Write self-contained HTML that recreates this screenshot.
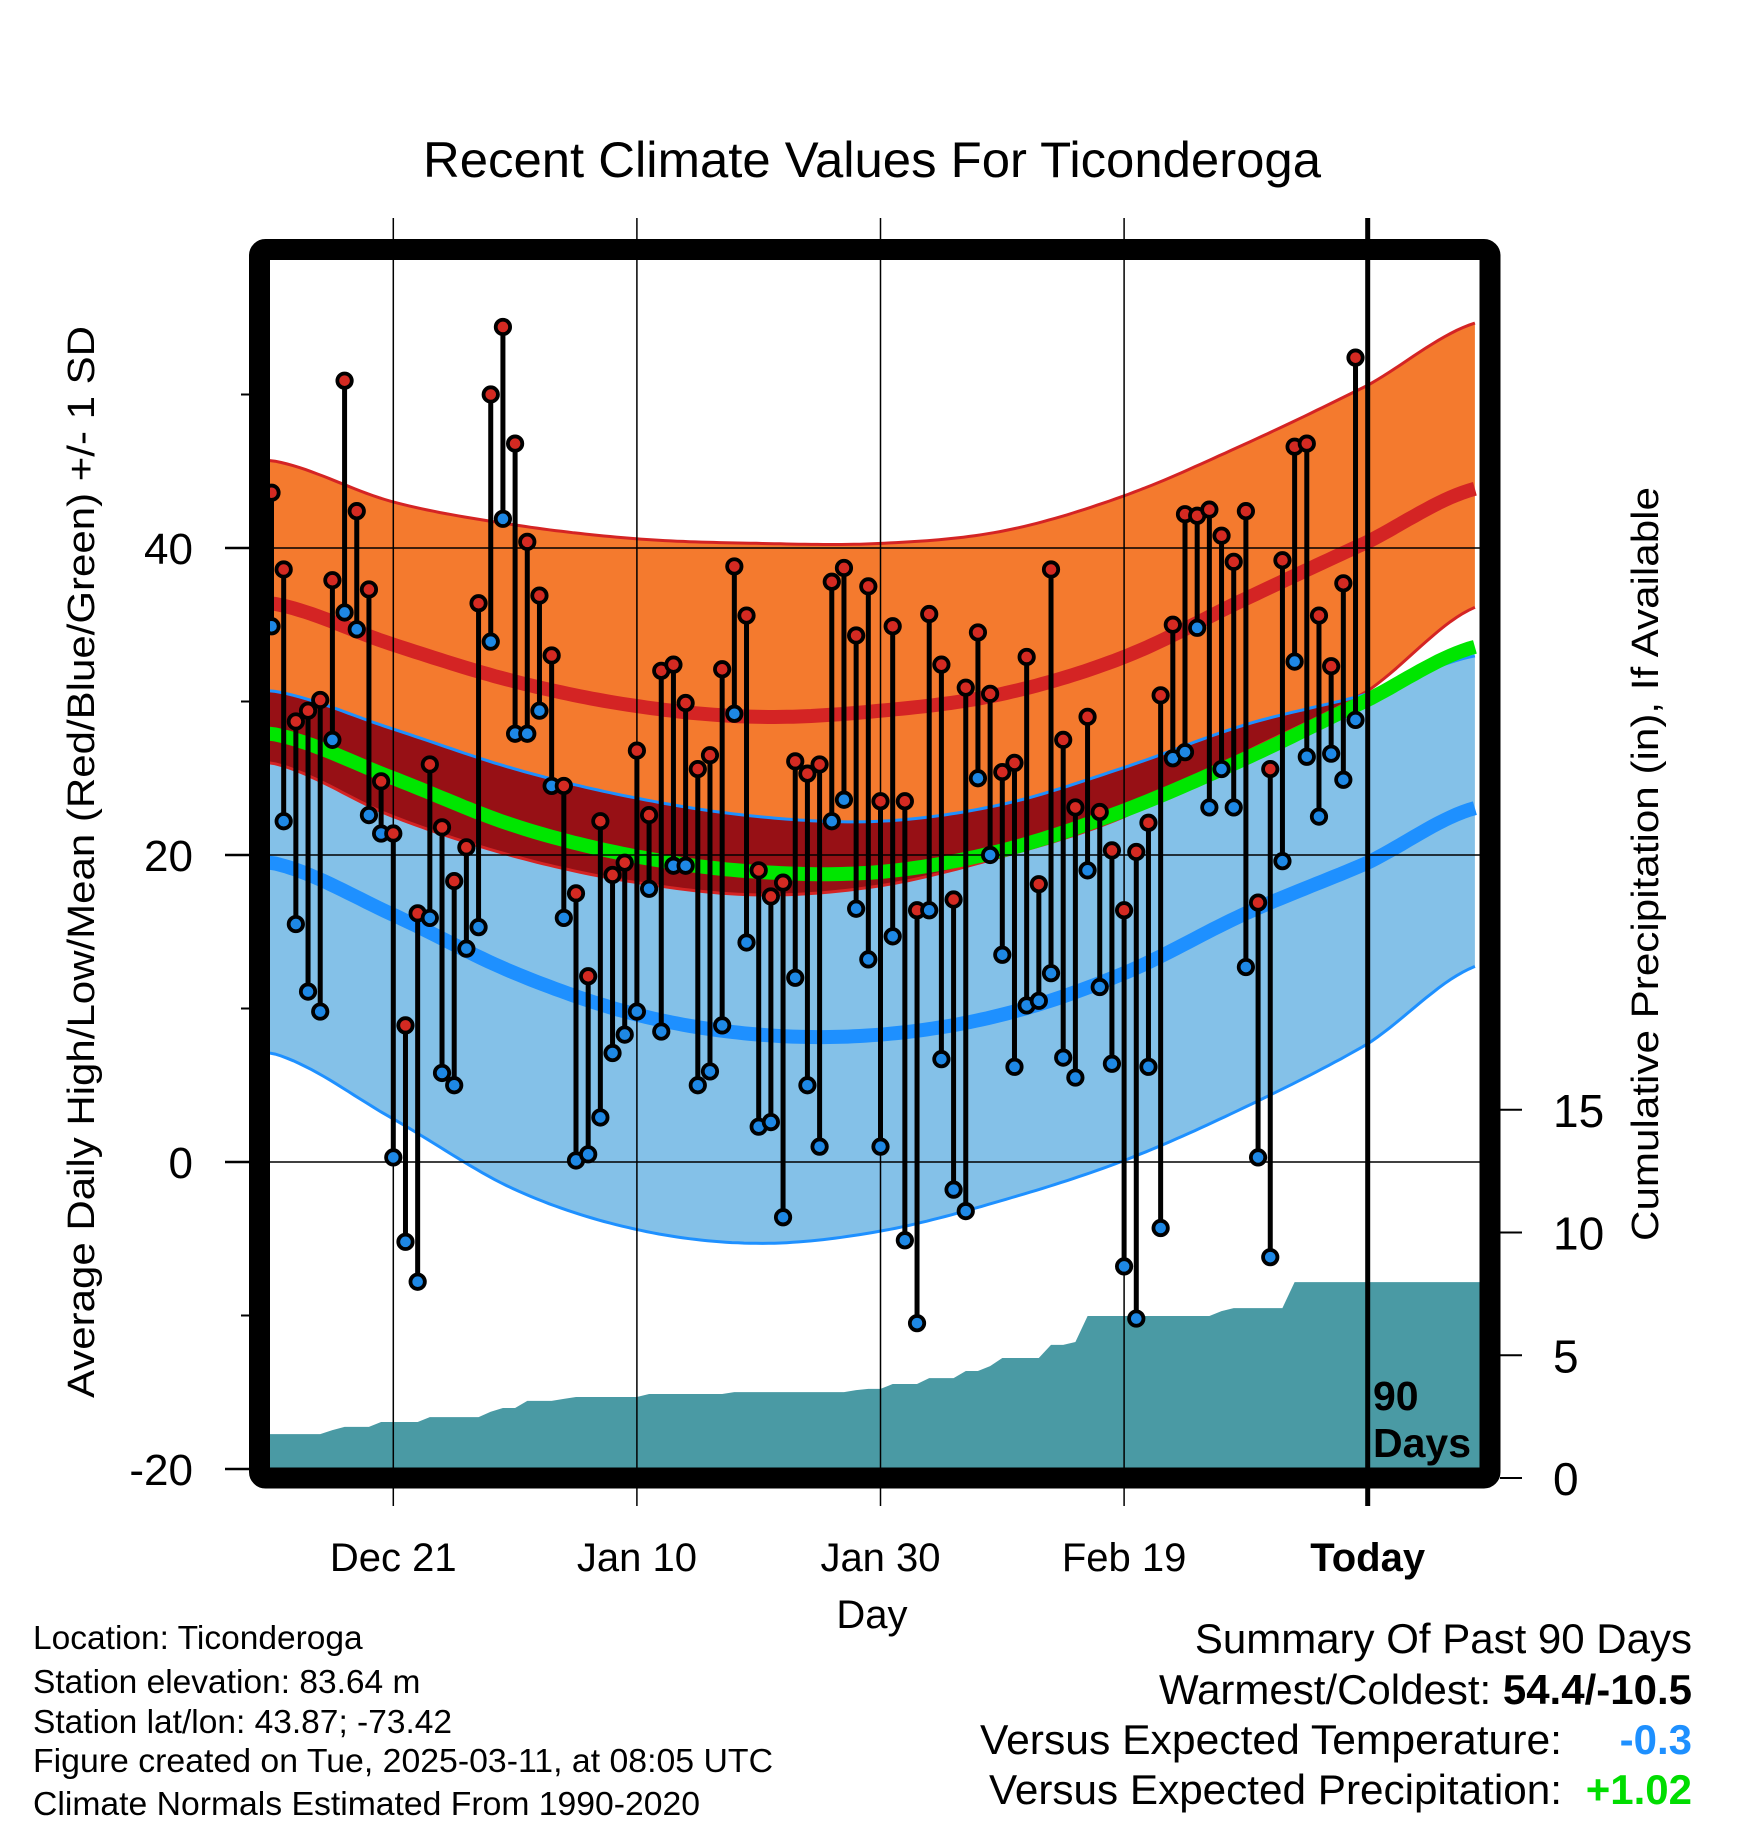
<!DOCTYPE html>
<html><head><meta charset="utf-8">
<style>
html,body{margin:0;padding:0;background:#fff;}
svg{display:block;font-family:"Liberation Sans",sans-serif;}
</style></head>
<body>
<svg id="chart" width="1748" height="1828" viewBox="0 0 1748 1828" xmlns="http://www.w3.org/2000/svg">
<rect x="0" y="0" width="1748" height="1828" fill="#fff"/>
<text x="872" y="177" font-size="50" text-anchor="middle" textLength="898" lengthAdjust="spacingAndGlyphs">Recent Climate Values For Ticonderoga</text>
<g id="plot"></g>
<text transform="translate(94,862) rotate(-90)" font-size="38" text-anchor="middle" textLength="1072" lengthAdjust="spacingAndGlyphs">Average Daily High/Low/Mean (Red/Blue/Green) +/- 1 SD</text>
<text transform="translate(1658,864) rotate(-90)" font-size="38" text-anchor="middle" textLength="754" lengthAdjust="spacingAndGlyphs">Cumulative Precipitation (in), If Available</text>
<text x="872" y="1628" font-size="40" text-anchor="middle">Day</text>
<g font-size="33.5">
<text x="33" y="1649">Location: Ticonderoga</text>
<text x="33" y="1693">Station elevation: 83.64 m</text>
<text x="33" y="1733">Station lat/lon: 43.87; -73.42</text>
<text x="33" y="1772" textLength="740" lengthAdjust="spacingAndGlyphs">Figure created on Tue, 2025-03-11, at 08:05 UTC</text>
<text x="33" y="1815" textLength="667" lengthAdjust="spacingAndGlyphs">Climate Normals Estimated From 1990-2020</text>
</g>
<g font-size="42">
<text x="1692" y="1653" text-anchor="end">Summary Of Past 90 Days</text>
<text x="1692" y="1704" text-anchor="end">Warmest/Coldest: <tspan font-weight="bold">54.4/-10.5</tspan></text>
<text x="980" y="1754" textLength="582" lengthAdjust="spacingAndGlyphs">Versus Expected Temperature:</text>
<text x="1692" y="1754" text-anchor="end" font-weight="bold" fill="#1e90ff">-0.3</text>
<text x="989" y="1804" textLength="573" lengthAdjust="spacingAndGlyphs">Versus Expected Precipitation:</text>
<text x="1692" y="1804" text-anchor="end" font-weight="bold" fill="#00dd00">+1.02</text>
</g>
</svg>
<script>
const highs=[43.6,38.6,28.7,29.4,30.1,37.9,50.9,42.4,37.3,24.8,21.4,8.9,16.2,25.9,21.8,18.3,20.5,36.4,50.0,54.4,46.8,40.4,36.9,33.0,24.5,17.5,12.1,22.2,18.7,19.5,26.8,22.6,32.0,32.4,29.9,25.6,26.5,32.1,38.8,35.6,19.0,17.3,18.2,26.1,25.3,25.9,37.8,38.7,34.3,37.5,23.5,34.9,23.5,16.4,35.7,32.4,17.1,30.9,34.5,30.5,25.4,26.0,32.9,18.1,38.6,27.5,23.1,29.0,22.8,20.3,16.4,20.2,22.1,30.4,35.0,42.2,42.1,42.5,40.8,39.1,42.4,16.9,25.6,39.2,46.6,46.8,35.6,32.3,37.7,52.4];
const lows=[34.9,22.2,15.5,11.1,9.8,27.5,35.8,34.7,22.6,21.4,0.3,-5.2,-7.8,15.9,5.8,5.0,13.9,15.3,33.9,41.9,27.9,27.9,29.4,24.5,15.9,0.1,0.5,2.9,7.1,8.3,9.8,17.8,8.5,19.3,19.3,5.0,5.9,8.9,29.2,14.3,2.3,2.6,-3.6,12.0,5.0,1.0,22.2,23.6,16.5,13.2,1.0,14.7,-5.1,-10.5,16.4,6.7,-1.8,-3.2,25.0,20.0,13.5,6.2,10.2,10.5,12.3,6.8,5.5,19.0,11.4,6.4,-6.8,-10.2,6.2,-4.3,26.3,26.7,34.8,23.1,25.6,23.1,12.7,0.3,-6.2,19.6,32.6,26.4,22.5,26.6,24.9,28.8];
const precip=[1.79,1.79,1.79,1.79,1.79,1.95,2.08,2.08,2.08,2.28,2.28,2.28,2.28,2.48,2.48,2.48,2.48,2.48,2.70,2.85,2.85,3.14,3.14,3.14,3.22,3.30,3.30,3.30,3.30,3.30,3.30,3.42,3.42,3.42,3.42,3.42,3.42,3.42,3.50,3.50,3.50,3.50,3.50,3.50,3.50,3.50,3.50,3.50,3.58,3.63,3.63,3.83,3.83,3.83,4.07,4.07,4.07,4.36,4.36,4.56,4.89,4.89,4.89,4.89,5.42,5.42,5.54,6.6,6.6,6.6,6.6,6.6,6.6,6.6,6.6,6.6,6.6,6.6,6.8,6.92,6.92,6.92,6.92,6.92,7.98,7.98,7.98,7.98,7.98,7.98];
const normDays=[0,10,20,30,40,50,60,70,80,90,99];
const highUpper=[45.7,43.0,41.5,40.6,40.3,40.3,41.1,43.4,46.8,50.6,54.7];
const highMean=[36.4,33.7,31.3,29.7,29.0,29.4,30.5,32.9,36.7,40.4,43.9];
const highLower=[26.0,22.5,19.9,18.2,17.4,18.0,19.9,22.5,26.7,30.7,36.2];
const lowUpper=[30.7,28.2,25.6,23.7,22.5,22.2,23.3,25.7,28.5,30.5,33.0];
const avgMean=[27.9,25.0,21.9,19.9,18.9,18.9,20.3,22.9,26.3,30.1,33.6];
const lowMean=[19.5,16.1,12.3,9.6,8.3,8.3,9.6,12.3,16.2,19.5,23.1];
const lowLower=[7.1,2.8,-1.8,-4.4,-5.3,-4.5,-2.5,0.1,3.6,7.7,12.8];
const yTicks=[-20,0,20,40];
const yMinor=[-10,10,30,50];
const pTicks=[0,5,10,15];
const xTickDays=[10,30,50,70,90];
const xTickLabels=["Dec 21","Jan 10","Jan 30","Feb 19","Today"];

const NS="http://www.w3.org/2000/svg";
const PL=270,PR=1480,PT=260,PB=1468;
function xs(d){return 271.5+d*12.18;}
function ys(v){return 1162-v*15.35;}
function yp(v){return 1478-v*24.55;}
const plot=document.getElementById('plot');
function mk(tag,attrs,parent){const e=document.createElementNS(NS,tag);for(const k in attrs)e.setAttribute(k,attrs[k]);(parent||plot).appendChild(e);return e;}
function interp(arr,d){
  let i=0;while(i<normDays.length-2&&d>normDays[i+1])i++;
  const p0=arr[Math.max(i-1,0)],p1=arr[i],p2=arr[i+1],p3=arr[Math.min(i+2,arr.length-1)];
  const t=(d-normDays[i])/(normDays[i+1]-normDays[i]);
  const t2=t*t,t3=t2*t;
  return 0.5*((2*p1)+(-p0+p2)*t+(2*p0-5*p1+4*p2-p3)*t2+(-p0+3*p1-3*p2+p3)*t3);
}
const D0=-0.2,D1=99.2;
function sample(fn){const pts=[];for(let d=D0;d<=D1+0.001;d+=0.5){pts.push([xs(d),ys(fn(Math.min(Math.max(d,0),99)))]);}return pts;}
function ptsStr(p){return p.map(q=>q[0].toFixed(1)+','+q[1].toFixed(1)).join(' ');}
const defs=mk('defs',{});
const cp=mk('clipPath',{id:'clip'},defs);
mk('rect',{x:PL,y:PT,width:PR-PL,height:PB-PT},cp);
const g=mk('g',{'clip-path':'url(#clip)'});


function mkg(tag,attrs){return mk(tag,attrs,g);}
(function(){
  const a=sample(d=>interp(lowUpper,d)),b=sample(d=>interp(lowLower,d)).reverse();
  const e=mkg('polygon',{points:ptsStr(a.concat(b)),fill:'#84c1e8'});
  
  
  const c=sample(d=>interp(highUpper,d)),f=sample(d=>interp(highLower,d)).reverse();
  const e2=mkg('polygon',{points:ptsStr(c.concat(f)),fill:'#f47a2e'});
  
  
  const o1=sample(d=>interp(lowUpper,d)),o2=sample(d=>Math.min(interp(highLower,d),interp(lowUpper,d))).reverse();
  const e3=mkg('polygon',{points:ptsStr(o1.concat(o2)),fill:'#971015'});
  
  
  const lines=[[highUpper,'#d42424',3,'high-upper-line'],[highLower,'#d42424',3,'high-lower-line'],[lowUpper,'#1e90ff',3,'low-upper-line'],[lowLower,'#1e90ff',3,'low-lower-line'],[highMean,'#d42424',14,'high-mean-line'],[lowMean,'#1e90ff',14,'low-mean-line'],[avgMean,'#00e600',14,'avg-mean-line']];
  lines.forEach(L=>{
    const e=mkg('polyline',{points:ptsStr(sample(d=>interp(L[0],d))),fill:'none',stroke:L[1],'stroke-width':L[2]});
    
    
  });
  yTicks.forEach(v=>{
    const e=mkg('line',{x1:PL,x2:PR,y1:ys(v),y2:ys(v),stroke:'#000','stroke-width':1.5});
    
    
  });
  const pp=[[PL,PB+5],[PL,yp(precip[0])]];
  precip.forEach((v,i)=>pp.push([xs(i),yp(v)]));
  pp.push([PR,yp(precip[precip.length-1])]);pp.push([PR,PB+5]);
  const ep=mkg('polygon',{points:ptsStr(pp),fill:'#4a9aa4'});
  
  
})();
xTickDays.forEach((d,i)=>{
  const e=mk('line',{x1:xs(d),x2:xs(d),y1:218,y2:1506,stroke:'#000','stroke-width':i==4?5:1.5});
  
  
  const t=mk('text',{x:xs(d),y:1571,'font-size':40,'text-anchor':'middle'});
  if(i==4)t.setAttribute('font-weight','bold');
  t.textContent=xTickLabels[i];
  
  
});
highs.forEach((h,i)=>{
  const s=mk('line',{x1:xs(i),x2:xs(i),y1:ys(h),y2:ys(lows[i]),stroke:'#000','stroke-width':5});
  
  
});
highs.forEach((h,i)=>{
  const c1=mk('circle',{cx:xs(i),cy:ys(lows[i]),r:7.2,fill:'#1e88e5',stroke:'#000','stroke-width':3.8});
  
  
  const c2=mk('circle',{cx:xs(i),cy:ys(h),r:7.2,fill:'#d42a22',stroke:'#000','stroke-width':3.8});
  
  
});
const t1=mk('text',{x:1373,y:1410,'font-size':41,'font-weight':'bold'});t1.textContent='90';


const t2=mk('text',{x:1373,y:1457,'font-size':41,'font-weight':'bold'});t2.textContent='Days';


const fr=mk('rect',{x:259.5,y:249.5,width:1230.5,height:1228.5,fill:'none',stroke:'#000','stroke-width':21,rx:6});


yTicks.forEach(v=>{
  const l=mk('line',{x1:225,x2:252,y1:ys(v),y2:ys(v),stroke:'#000','stroke-width':2.5});
  
  
  const t=mk('text',{x:193,y:ys(v)+16,'font-size':44,'text-anchor':'end'});t.textContent=v;
  
  
});
yMinor.forEach(v=>{
  const l=mk('line',{x1:241,x2:252,y1:ys(v),y2:ys(v),stroke:'#000','stroke-width':2});
  
  
});
pTicks.forEach(v=>{
  const l=mk('line',{x1:1500,x2:1522,y1:yp(v),y2:yp(v),stroke:'#000','stroke-width':2});
  
  
  const t=mk('text',{x:1553,y:yp(v)+17,'font-size':46});t.textContent=v;
  
  
});
</script>
</body></html>
